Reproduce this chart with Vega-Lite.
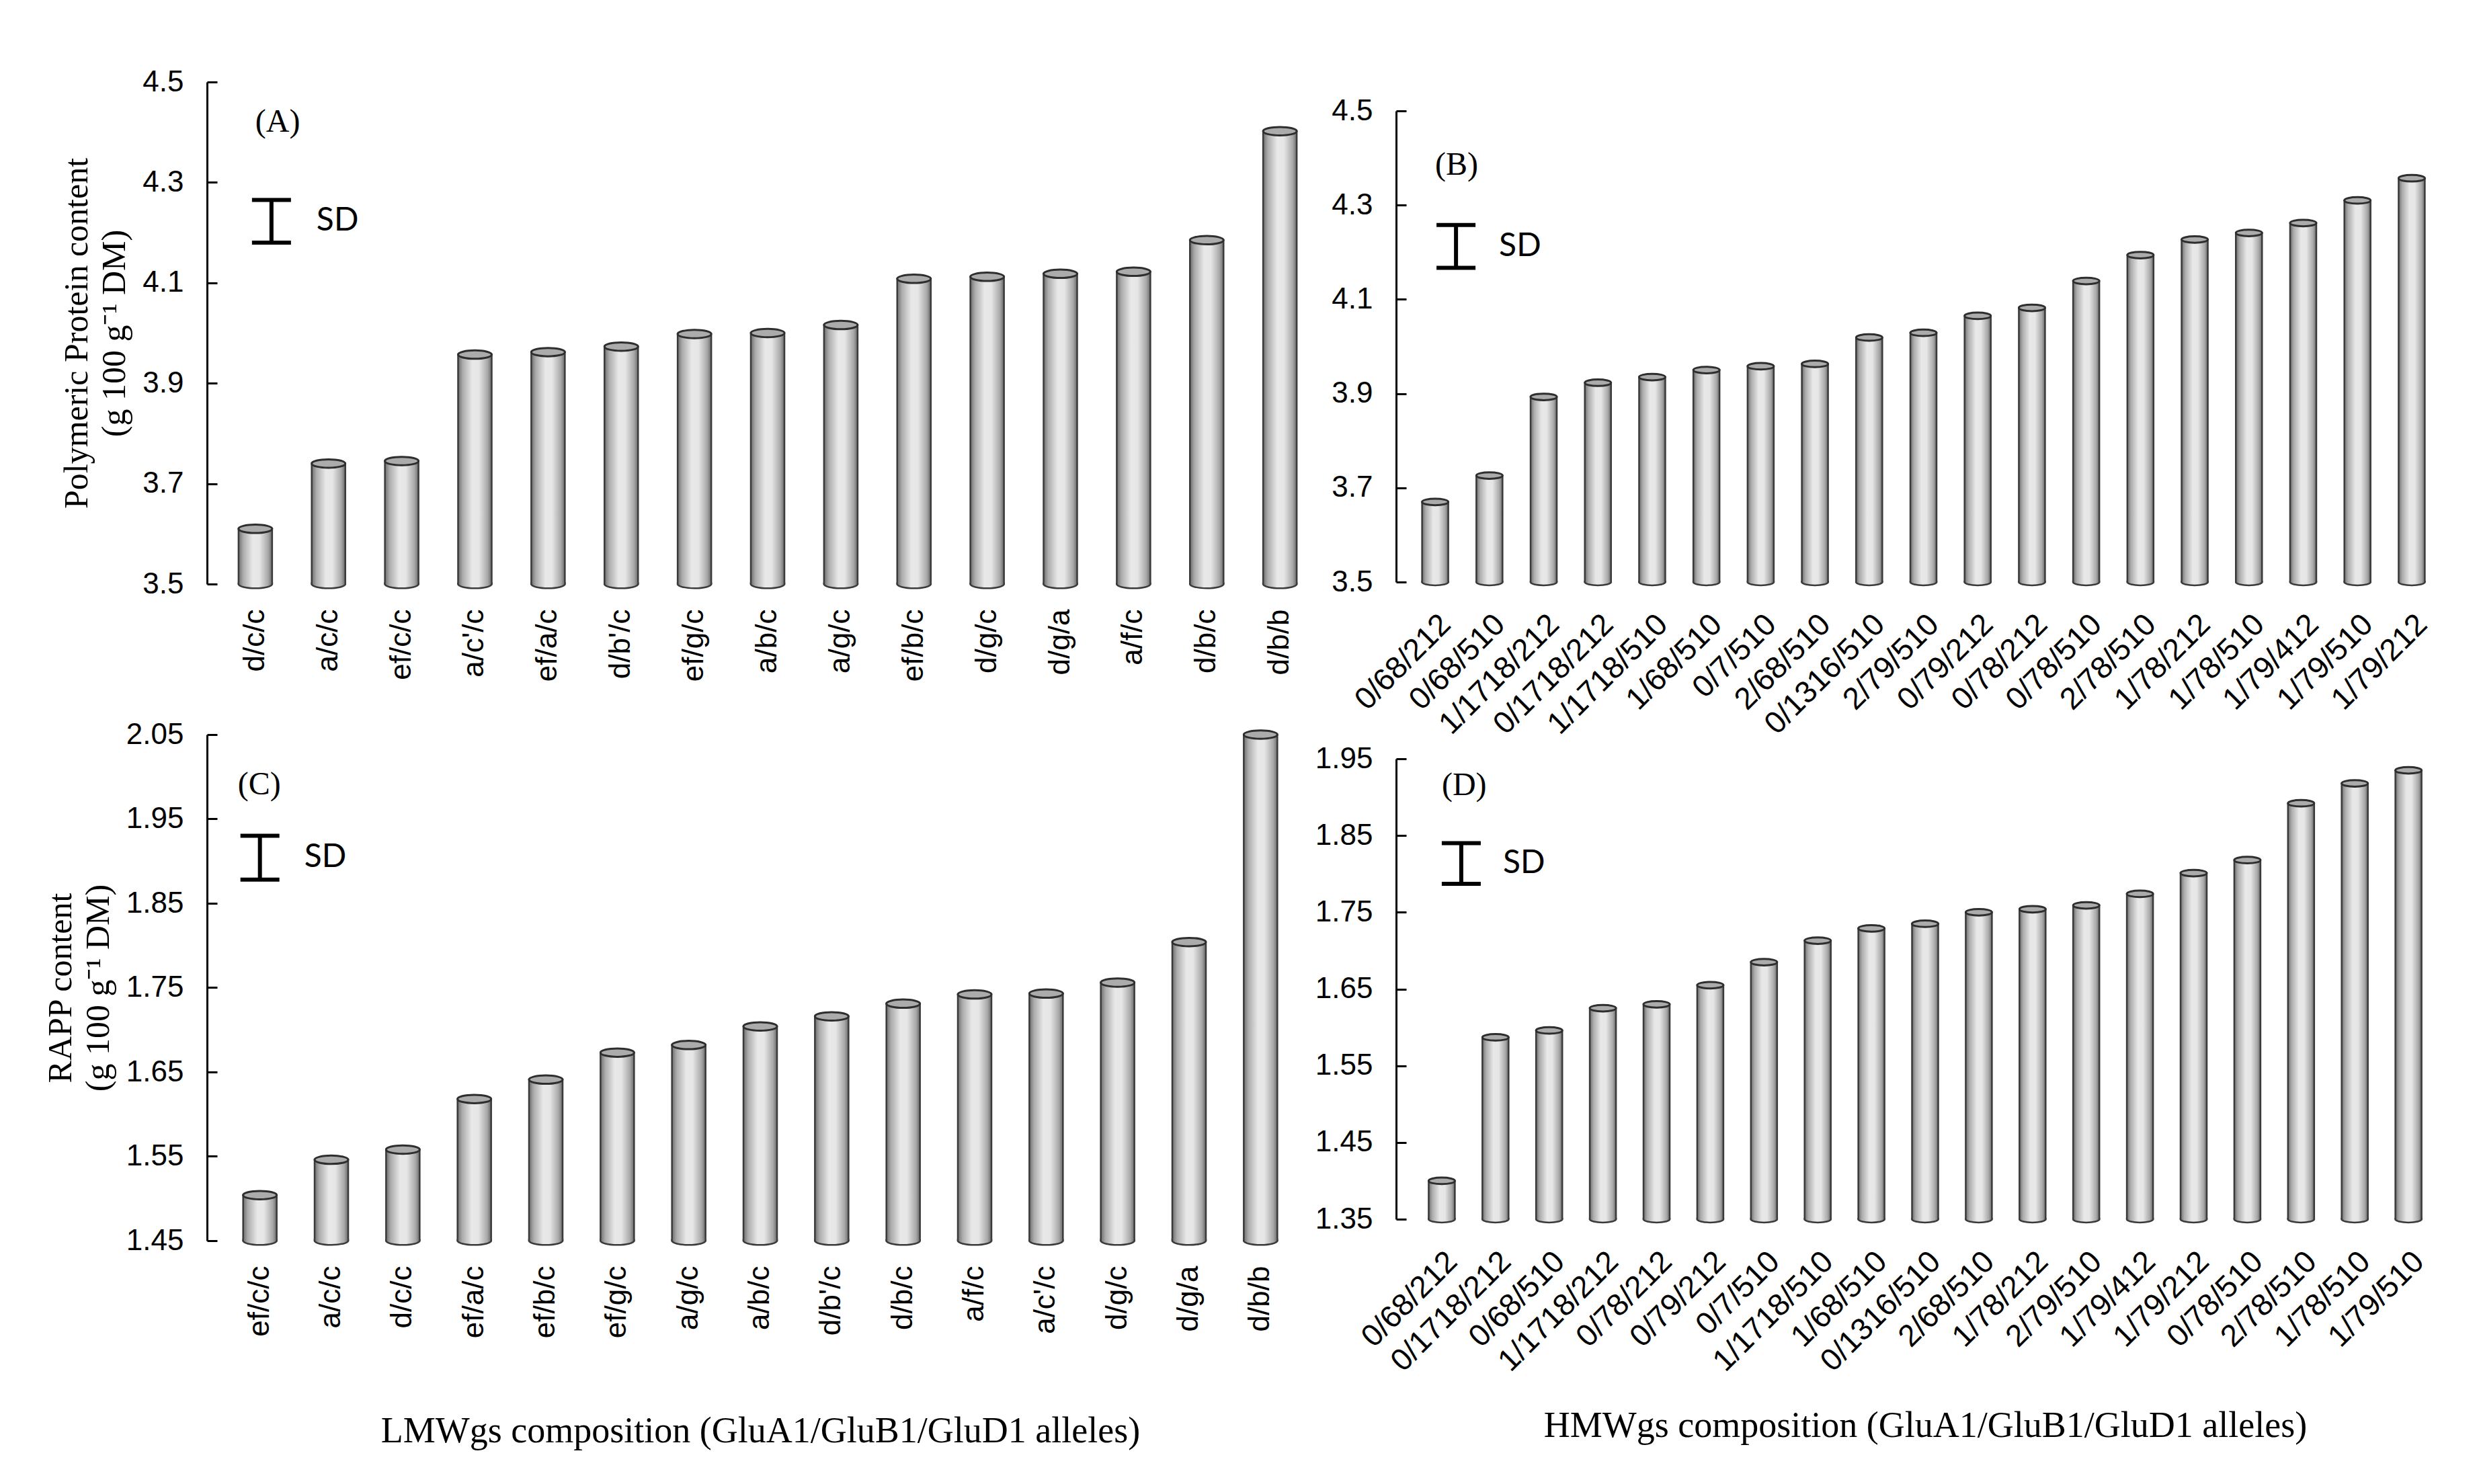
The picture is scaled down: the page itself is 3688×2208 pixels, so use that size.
{
  "$schema": "https://vega.github.io/schema/vega-lite/v6.json",
  "background": "white",
  "padding": {"left": 65, "top": 100, "right": 10, "bottom": 10},
  "datasets": {
    "A": [
      {"allele": "d/c/c", "value": 3.61},
      {"allele": "a/c/c", "value": 3.74},
      {"allele": "ef/c/c", "value": 3.745},
      {"allele": "a/c'/c", "value": 3.957},
      {"allele": "ef/a/c", "value": 3.962},
      {"allele": "d/b'/c", "value": 3.973},
      {"allele": "ef/g/c", "value": 3.998},
      {"allele": "a/b/c", "value": 4.0},
      {"allele": "a/g/c", "value": 4.016},
      {"allele": "ef/b/c", "value": 4.108},
      {"allele": "d/g/c", "value": 4.112},
      {"allele": "d/g/a", "value": 4.118},
      {"allele": "a/f/c", "value": 4.122},
      {"allele": "d/b/c", "value": 4.185},
      {"allele": "d/b/b", "value": 4.402}
    ],
    "B": [
      {"allele": "0/68/212", "value": 3.67},
      {"allele": "0/68/510", "value": 3.726},
      {"allele": "1/1718/212", "value": 3.893},
      {"allele": "0/1718/212", "value": 3.923},
      {"allele": "1/1718/510", "value": 3.935},
      {"allele": "1/68/510", "value": 3.95},
      {"allele": "0/7/510", "value": 3.958},
      {"allele": "2/68/510", "value": 3.963},
      {"allele": "0/1316/510", "value": 4.019},
      {"allele": "2/79/510", "value": 4.029},
      {"allele": "0/79/212", "value": 4.065},
      {"allele": "0/78/212", "value": 4.082},
      {"allele": "0/78/510", "value": 4.139},
      {"allele": "2/78/510", "value": 4.194},
      {"allele": "1/78/212", "value": 4.227},
      {"allele": "1/78/510", "value": 4.241},
      {"allele": "1/79/412", "value": 4.262},
      {"allele": "1/79/510", "value": 4.31},
      {"allele": "1/79/212", "value": 4.357}
    ],
    "C": [
      {"allele": "ef/c/c", "value": 1.504},
      {"allele": "a/c/c", "value": 1.546},
      {"allele": "d/c/c", "value": 1.558},
      {"allele": "ef/a/c", "value": 1.618},
      {"allele": "ef/b/c", "value": 1.641},
      {"allele": "ef/g/c", "value": 1.673},
      {"allele": "a/g/c", "value": 1.682},
      {"allele": "a/b/c", "value": 1.704},
      {"allele": "d/b'/c", "value": 1.716},
      {"allele": "d/b/c", "value": 1.731},
      {"allele": "a/f/c", "value": 1.742},
      {"allele": "a/c'/c", "value": 1.743},
      {"allele": "d/g/c", "value": 1.756},
      {"allele": "d/g/a", "value": 1.804},
      {"allele": "d/b/b", "value": 2.05}
    ],
    "D": [
      {"allele": "0/68/212", "value": 1.4},
      {"allele": "0/1718/212", "value": 1.587},
      {"allele": "0/68/510", "value": 1.596},
      {"allele": "1/1718/212", "value": 1.625},
      {"allele": "0/78/212", "value": 1.63},
      {"allele": "0/79/212", "value": 1.655},
      {"allele": "0/7/510", "value": 1.685},
      {"allele": "1/1718/510", "value": 1.713},
      {"allele": "1/68/510", "value": 1.729},
      {"allele": "0/1316/510", "value": 1.735},
      {"allele": "2/68/510", "value": 1.75},
      {"allele": "1/78/212", "value": 1.754},
      {"allele": "2/79/510", "value": 1.759},
      {"allele": "1/79/412", "value": 1.774},
      {"allele": "1/79/212", "value": 1.801},
      {"allele": "0/78/510", "value": 1.818},
      {"allele": "2/78/510", "value": 1.892},
      {"allele": "1/78/510", "value": 1.918},
      {"allele": "1/79/510", "value": 1.935}
    ],
    "SDA": [{"allele": "d/c/c", "lo": 4.18, "hi": 4.265, "mid": 4.2225, "tag": 4.42}],
    "SDB": [{"allele": "0/68/212", "lo": 4.167, "hi": 4.258, "mid": 4.212, "tag": 4.385}],
    "SDC": [{"allele": "ef/c/c", "lo": 1.878, "hi": 1.93, "mid": 1.904, "tag": 1.99}],
    "SDD": [{"allele": "0/68/212", "lo": 1.787, "hi": 1.84, "mid": 1.813, "tag": 1.915}]
  },
  "spacing": -20,
  "hconcat": [
    {
      "spacing": 57,
      "vconcat": [
        {
          "width": 1668,
          "height": 747,
          "layer": [
            {
              "data": {"name": "A"},
              "mark": {"type": "bar", "size": 50, "stroke": "#3a3a3a", "strokeWidth": 2.5,
                "fill": {"gradient": "linear", "x1": 0, "x2": 1, "y1": 0, "y2": 0, "stops": [
                  {"offset": 0, "color": "#6e6e6e"}, {"offset": 0.14, "color": "#acacac"}, {"offset": 0.42, "color": "#e8e8e8"},
                  {"offset": 0.62, "color": "#e6e6e6"}, {"offset": 0.88, "color": "#a8a8a8"}, {"offset": 1, "color": "#6a6a6a"}]}},
              "encoding": {
                "x": {"field": "allele", "type": "nominal",
                  "scale": {"domain": ["d/c/c", "a/c/c", "ef/c/c", "a/c'/c", "ef/a/c", "d/b'/c", "ef/g/c", "a/b/c", "a/g/c", "ef/b/c", "d/g/c", "d/g/a", "a/f/c", "d/b/c", "d/b/b"],
                    "paddingInner": 0.5, "paddingOuter": 0.41},
                  "axis": {"title": null, "labelAngle": -90, "labelPadding": 37}},
                "y": {"field": "value", "type": "quantitative",
                  "scale": {"domain": [3.5, 4.5], "nice": false, "zero": false},
                  "axis": {"values": [3.5, 3.7, 3.9, 4.1, 4.3, 4.5], "format": ".1f",
                    "title": ["Polymeric Protein content", "(g 100 g⁻¹ DM)"], "titleLineHeight": 56, "titlePadding": 16}},
                "y2": {"datum": 3.5}
              }
            },
            {
              "data": {"name": "A"},
              "mark": {"type": "point", "shape": "M -1 -0.1 L -1 0 A 1 0.25 0 0 0 1 0 L 1 -0.1", "size": 2500, "filled": true, "opacity": 1,
                "fill": {"gradient": "linear", "x1": 0, "x2": 1, "y1": 0, "y2": 0, "stops": [
                  {"offset": 0, "color": "#6e6e6e"}, {"offset": 0.14, "color": "#acacac"}, {"offset": 0.42, "color": "#e8e8e8"},
                  {"offset": 0.62, "color": "#e6e6e6"}, {"offset": 0.88, "color": "#a8a8a8"}, {"offset": 1, "color": "#6a6a6a"}]},
                "stroke": "#3a3a3a", "strokeWidth": 2.5},
              "encoding": {"x": {"field": "allele", "type": "nominal"}, "y": {"datum": 3.5, "type": "quantitative"}}
            },
            {
              "data": {"name": "A"},
              "mark": {"type": "point", "shape": "M -1 0 A 1 0.25 0 1 1 1 0 A 1 0.25 0 1 1 -1 0 Z", "size": 2500, "filled": true, "opacity": 1,
                "fill": "#ababab", "stroke": "#2e2e2e", "strokeWidth": 3},
              "encoding": {"x": {"field": "allele", "type": "nominal"}, "y": {"field": "value", "type": "quantitative"}}
            },
            {
              "data": {"name": "SDA"},
              "mark": {"type": "rule", "strokeWidth": 6, "color": "#000", "xOffset": 24},
              "encoding": {"x": {"field": "allele", "type": "nominal"}, "y": {"field": "lo", "type": "quantitative"}, "y2": {"field": "hi"}}
            },
            {
              "data": {"name": "SDA"},
              "mark": {"type": "tick", "size": 58, "thickness": 6, "color": "#000", "opacity": 1, "xOffset": 24, "orient": "horizontal"},
              "encoding": {"x": {"field": "allele", "type": "nominal"}, "y": {"field": "lo", "type": "quantitative"}}
            },
            {
              "data": {"name": "SDA"},
              "mark": {"type": "tick", "size": 58, "thickness": 6, "color": "#000", "opacity": 1, "xOffset": 24, "orient": "horizontal"},
              "encoding": {"x": {"field": "allele", "type": "nominal"}, "y": {"field": "hi", "type": "quantitative"}}
            },
            {
              "data": {"name": "SDA"},
              "mark": {"type": "text", "text": "SD", "font": "Lato", "fontSize": 48, "align": "left", "baseline": "middle", "dx": 91, "color": "#000"},
              "encoding": {"x": {"field": "allele", "type": "nominal"}, "y": {"field": "mid", "type": "quantitative"}}
            },
            {
              "data": {"name": "SDA"},
              "mark": {"type": "text", "text": "(A)", "font": "Liberation Serif", "fontSize": 48, "align": "left", "baseline": "middle", "dx": 0, "color": "#000"},
              "encoding": {"x": {"field": "allele", "type": "nominal"}, "y": {"field": "tag", "type": "quantitative"}}
            }
          ]
        },
        {
          "width": 1646,
          "height": 753,
          "layer": [
            {
              "data": {"name": "C"},
              "mark": {"type": "bar", "size": 50, "stroke": "#3a3a3a", "strokeWidth": 2.5,
                "fill": {"gradient": "linear", "x1": 0, "x2": 1, "y1": 0, "y2": 0, "stops": [
                  {"offset": 0, "color": "#6e6e6e"}, {"offset": 0.14, "color": "#acacac"}, {"offset": 0.42, "color": "#e8e8e8"},
                  {"offset": 0.62, "color": "#e6e6e6"}, {"offset": 0.88, "color": "#a8a8a8"}, {"offset": 1, "color": "#6a6a6a"}]}},
              "encoding": {
                "x": {"field": "allele", "type": "nominal",
                  "scale": {"domain": ["ef/c/c", "a/c/c", "d/c/c", "ef/a/c", "ef/b/c", "ef/g/c", "a/g/c", "a/b/c", "d/b'/c", "d/b/c", "a/f/c", "a/c'/c", "d/g/c", "d/g/a", "d/b/b"],
                    "paddingInner": 0.5, "paddingOuter": 0.49},
                  "axis": {"title": "LMWgs composition (GluA1/GluB1/GluD1 alleles)", "titleFontSize": 54, "titlePadding": 112, "labelAngle": -90, "labelPadding": 37}},
                "y": {"field": "value", "type": "quantitative",
                  "scale": {"domain": [1.45, 2.05], "nice": false, "zero": false},
                  "axis": {"values": [1.45, 1.55, 1.65, 1.75, 1.85, 1.95, 2.05], "format": ".2f",
                    "title": ["RAPP content", "(g 100 g⁻¹ DM)"], "titleLineHeight": 56, "titlePadding": 16}},
                "y2": {"datum": 1.45}
              }
            },
            {
              "data": {"name": "C"},
              "mark": {"type": "point", "shape": "M -1 -0.1 L -1 0 A 1 0.25 0 0 0 1 0 L 1 -0.1", "size": 2500, "filled": true, "opacity": 1,
                "fill": {"gradient": "linear", "x1": 0, "x2": 1, "y1": 0, "y2": 0, "stops": [
                  {"offset": 0, "color": "#6e6e6e"}, {"offset": 0.14, "color": "#acacac"}, {"offset": 0.42, "color": "#e8e8e8"},
                  {"offset": 0.62, "color": "#e6e6e6"}, {"offset": 0.88, "color": "#a8a8a8"}, {"offset": 1, "color": "#6a6a6a"}]},
                "stroke": "#3a3a3a", "strokeWidth": 2.5},
              "encoding": {"x": {"field": "allele", "type": "nominal"}, "y": {"datum": 1.45, "type": "quantitative"}}
            },
            {
              "data": {"name": "C"},
              "mark": {"type": "point", "shape": "M -1 0 A 1 0.25 0 1 1 1 0 A 1 0.25 0 1 1 -1 0 Z", "size": 2500, "filled": true, "opacity": 1,
                "fill": "#ababab", "stroke": "#2e2e2e", "strokeWidth": 3},
              "encoding": {"x": {"field": "allele", "type": "nominal"}, "y": {"field": "value", "type": "quantitative"}}
            },
            {
              "data": {"name": "SDC"},
              "mark": {"type": "rule", "strokeWidth": 6, "color": "#000", "xOffset": 0},
              "encoding": {"x": {"field": "allele", "type": "nominal"}, "y": {"field": "lo", "type": "quantitative"}, "y2": {"field": "hi"}}
            },
            {
              "data": {"name": "SDC"},
              "mark": {"type": "tick", "size": 58, "thickness": 6, "color": "#000", "opacity": 1, "xOffset": 0, "orient": "horizontal"},
              "encoding": {"x": {"field": "allele", "type": "nominal"}, "y": {"field": "lo", "type": "quantitative"}}
            },
            {
              "data": {"name": "SDC"},
              "mark": {"type": "tick", "size": 58, "thickness": 6, "color": "#000", "opacity": 1, "xOffset": 0, "orient": "horizontal"},
              "encoding": {"x": {"field": "allele", "type": "nominal"}, "y": {"field": "hi", "type": "quantitative"}}
            },
            {
              "data": {"name": "SDC"},
              "mark": {"type": "text", "text": "SD", "font": "Lato", "fontSize": 48, "align": "left", "baseline": "middle", "dx": 66, "color": "#000"},
              "encoding": {"x": {"field": "allele", "type": "nominal"}, "y": {"field": "mid", "type": "quantitative"}}
            },
            {
              "data": {"name": "SDC"},
              "mark": {"type": "text", "text": "(C)", "font": "Liberation Serif", "fontSize": 48, "align": "left", "baseline": "middle", "dx": -33, "color": "#000"},
              "encoding": {"x": {"field": "allele", "type": "nominal"}, "y": {"field": "tag", "type": "quantitative"}}
            }
          ]
        }
      ]
    },
    {
      "spacing": 6,
      "vconcat": [
        {
          "width": 1569,
          "height": 744,
          "layer": [
            {
              "data": {"name": "B"},
              "mark": {"type": "bar", "size": 39, "stroke": "#3a3a3a", "strokeWidth": 2.5,
                "fill": {"gradient": "linear", "x1": 0, "x2": 1, "y1": 0, "y2": 0, "stops": [
                  {"offset": 0, "color": "#6e6e6e"}, {"offset": 0.14, "color": "#acacac"}, {"offset": 0.42, "color": "#e8e8e8"},
                  {"offset": 0.62, "color": "#e6e6e6"}, {"offset": 0.88, "color": "#a8a8a8"}, {"offset": 1, "color": "#6a6a6a"}]}},
              "encoding": {
                "x": {"field": "allele", "type": "nominal",
                  "scale": {"domain": ["0/68/212", "0/68/510", "1/1718/212", "0/1718/212", "1/1718/510", "1/68/510", "0/7/510", "2/68/510", "0/1316/510", "2/79/510", "0/79/212", "0/78/212", "0/78/510", "2/78/510", "1/78/212", "1/78/510", "1/79/412", "1/79/510", "1/79/212"],
                    "paddingInner": 0.5, "paddingOuter": 0.47},
                  "axis": {"title": null, "labelAngle": -45, "labelPadding": 40, "labelFontSize": 46}},
                "y": {"field": "value", "type": "quantitative",
                  "scale": {"domain": [3.5, 4.5], "nice": false, "zero": false, "range": [744, 43]},
                  "axis": {"values": [3.5, 3.7, 3.9, 4.1, 4.3, 4.5], "format": ".1f", "title": null}},
                "y2": {"datum": 3.5}
              }
            },
            {
              "data": {"name": "B"},
              "mark": {"type": "point", "shape": "M -1 -0.1 L -1 0 A 1 0.25 0 0 0 1 0 L 1 -0.1", "size": 1521, "filled": true, "opacity": 1,
                "fill": {"gradient": "linear", "x1": 0, "x2": 1, "y1": 0, "y2": 0, "stops": [
                  {"offset": 0, "color": "#6e6e6e"}, {"offset": 0.14, "color": "#acacac"}, {"offset": 0.42, "color": "#e8e8e8"},
                  {"offset": 0.62, "color": "#e6e6e6"}, {"offset": 0.88, "color": "#a8a8a8"}, {"offset": 1, "color": "#6a6a6a"}]},
                "stroke": "#3a3a3a", "strokeWidth": 2.5},
              "encoding": {"x": {"field": "allele", "type": "nominal"}, "y": {"datum": 3.5, "type": "quantitative"}}
            },
            {
              "data": {"name": "B"},
              "mark": {"type": "point", "shape": "M -1 0 A 1 0.25 0 1 1 1 0 A 1 0.25 0 1 1 -1 0 Z", "size": 1521, "filled": true, "opacity": 1,
                "fill": "#ababab", "stroke": "#2e2e2e", "strokeWidth": 3},
              "encoding": {"x": {"field": "allele", "type": "nominal"}, "y": {"field": "value", "type": "quantitative"}}
            },
            {
              "data": {"name": "SDB"},
              "mark": {"type": "rule", "strokeWidth": 6, "color": "#000", "xOffset": 31},
              "encoding": {"x": {"field": "allele", "type": "nominal"}, "y": {"field": "lo", "type": "quantitative"}, "y2": {"field": "hi"}}
            },
            {
              "data": {"name": "SDB"},
              "mark": {"type": "tick", "size": 58, "thickness": 6, "color": "#000", "opacity": 1, "xOffset": 31, "orient": "horizontal"},
              "encoding": {"x": {"field": "allele", "type": "nominal"}, "y": {"field": "lo", "type": "quantitative"}}
            },
            {
              "data": {"name": "SDB"},
              "mark": {"type": "tick", "size": 58, "thickness": 6, "color": "#000", "opacity": 1, "xOffset": 31, "orient": "horizontal"},
              "encoding": {"x": {"field": "allele", "type": "nominal"}, "y": {"field": "hi", "type": "quantitative"}}
            },
            {
              "data": {"name": "SDB"},
              "mark": {"type": "text", "text": "SD", "font": "Lato", "fontSize": 48, "align": "left", "baseline": "middle", "dx": 95, "color": "#000"},
              "encoding": {"x": {"field": "allele", "type": "nominal"}, "y": {"field": "mid", "type": "quantitative"}}
            },
            {
              "data": {"name": "SDB"},
              "mark": {"type": "text", "text": "(B)", "font": "Liberation Serif", "fontSize": 48, "align": "left", "baseline": "middle", "dx": 0, "color": "#000"},
              "encoding": {"x": {"field": "allele", "type": "nominal"}, "y": {"field": "tag", "type": "quantitative"}}
            }
          ]
        },
        {
          "width": 1574,
          "height": 685,
          "layer": [
            {
              "data": {"name": "D"},
              "mark": {"type": "bar", "size": 39, "stroke": "#3a3a3a", "strokeWidth": 2.5,
                "fill": {"gradient": "linear", "x1": 0, "x2": 1, "y1": 0, "y2": 0, "stops": [
                  {"offset": 0, "color": "#6e6e6e"}, {"offset": 0.14, "color": "#acacac"}, {"offset": 0.42, "color": "#e8e8e8"},
                  {"offset": 0.62, "color": "#e6e6e6"}, {"offset": 0.88, "color": "#a8a8a8"}, {"offset": 1, "color": "#6a6a6a"}]}},
              "encoding": {
                "x": {"field": "allele", "type": "nominal",
                  "scale": {"domain": ["0/68/212", "0/1718/212", "0/68/510", "1/1718/212", "0/78/212", "0/79/212", "0/7/510", "1/1718/510", "1/68/510", "0/1316/510", "2/68/510", "1/78/212", "2/79/510", "1/79/412", "1/79/212", "0/78/510", "2/78/510", "1/78/510", "1/79/510"],
                    "paddingInner": 0.5, "paddingOuter": 0.6},
                  "axis": {"title": "HMWgs composition (GluA1/GluB1/GluD1 alleles)", "titleFontSize": 54, "titlePadding": 80, "labelAngle": -45, "labelPadding": 40, "labelFontSize": 46}},
                "y": {"field": "value", "type": "quantitative",
                  "scale": {"domain": [1.35, 1.95], "nice": false, "zero": false},
                  "axis": {"values": [1.35, 1.45, 1.55, 1.65, 1.75, 1.85, 1.95], "format": ".2f", "title": null}},
                "y2": {"datum": 1.35}
              }
            },
            {
              "data": {"name": "D"},
              "mark": {"type": "point", "shape": "M -1 -0.1 L -1 0 A 1 0.25 0 0 0 1 0 L 1 -0.1", "size": 1521, "filled": true, "opacity": 1,
                "fill": {"gradient": "linear", "x1": 0, "x2": 1, "y1": 0, "y2": 0, "stops": [
                  {"offset": 0, "color": "#6e6e6e"}, {"offset": 0.14, "color": "#acacac"}, {"offset": 0.42, "color": "#e8e8e8"},
                  {"offset": 0.62, "color": "#e6e6e6"}, {"offset": 0.88, "color": "#a8a8a8"}, {"offset": 1, "color": "#6a6a6a"}]},
                "stroke": "#3a3a3a", "strokeWidth": 2.5},
              "encoding": {"x": {"field": "allele", "type": "nominal"}, "y": {"datum": 1.35, "type": "quantitative"}}
            },
            {
              "data": {"name": "D"},
              "mark": {"type": "point", "shape": "M -1 0 A 1 0.25 0 1 1 1 0 A 1 0.25 0 1 1 -1 0 Z", "size": 1521, "filled": true, "opacity": 1,
                "fill": "#ababab", "stroke": "#2e2e2e", "strokeWidth": 3},
              "encoding": {"x": {"field": "allele", "type": "nominal"}, "y": {"field": "value", "type": "quantitative"}}
            },
            {
              "data": {"name": "SDD"},
              "mark": {"type": "rule", "strokeWidth": 6, "color": "#000", "xOffset": 29},
              "encoding": {"x": {"field": "allele", "type": "nominal"}, "y": {"field": "lo", "type": "quantitative"}, "y2": {"field": "hi"}}
            },
            {
              "data": {"name": "SDD"},
              "mark": {"type": "tick", "size": 58, "thickness": 6, "color": "#000", "opacity": 1, "xOffset": 29, "orient": "horizontal"},
              "encoding": {"x": {"field": "allele", "type": "nominal"}, "y": {"field": "lo", "type": "quantitative"}}
            },
            {
              "data": {"name": "SDD"},
              "mark": {"type": "tick", "size": 58, "thickness": 6, "color": "#000", "opacity": 1, "xOffset": 29, "orient": "horizontal"},
              "encoding": {"x": {"field": "allele", "type": "nominal"}, "y": {"field": "hi", "type": "quantitative"}}
            },
            {
              "data": {"name": "SDD"},
              "mark": {"type": "text", "text": "SD", "font": "Lato", "fontSize": 48, "align": "left", "baseline": "middle", "dx": 91, "color": "#000"},
              "encoding": {"x": {"field": "allele", "type": "nominal"}, "y": {"field": "mid", "type": "quantitative"}}
            },
            {
              "data": {"name": "SDD"},
              "mark": {"type": "text", "text": "(D)", "font": "Liberation Serif", "fontSize": 48, "align": "left", "baseline": "middle", "dx": 0, "color": "#000"},
              "encoding": {"x": {"field": "allele", "type": "nominal"}, "y": {"field": "tag", "type": "quantitative"}}
            }
          ]
        }
      ]
    }
  ],
  "config": {
    "view": {"stroke": null},
    "axis": {
      "grid": false,
      "domainColor": "#000", "domainWidth": 3,
      "tickColor": "#000", "tickWidth": 3,
      "labelColor": "#000", "labelFont": "Liberation Sans", "labelFontSize": 44, "labelLimit": 500,
      "titleFont": "Liberation Serif", "titleFontWeight": "normal", "titleColor": "#000", "titleFontSize": 50
    },
    "axisY": {"tickSize": -15, "labelPadding": 50},
    "axisX": {"ticks": false, "domain": false, "tickSize": 0}
  }
}
